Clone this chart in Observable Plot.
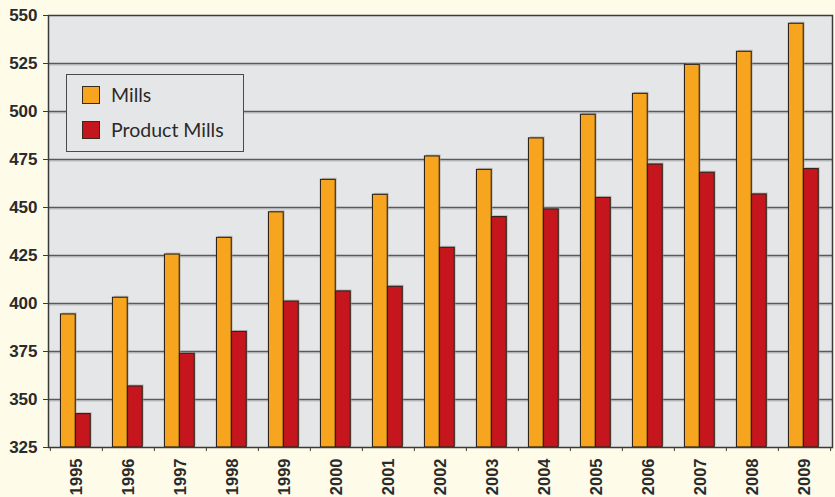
<!DOCTYPE html>
<html>
<head>
<meta charset="utf-8">
<script src="https://cdn.jsdelivr.net/npm/d3@7"></script>
<script src="https://cdn.jsdelivr.net/npm/@observablehq/plot@0.6"></script>
<style>
  html, body { margin: 0; padding: 0; background: #FEFBE9; }
  #wrap { position: relative; width: 835px; height: 497px; overflow: hidden; }
  #legend {
    position: absolute; left: 66px; top: 74px; width: 176px; height: 76px;
    background: #E5E6E8; border: 1.5px solid #4a4a4a;
    font-family: Lato, "Open Sans", sans-serif; font-size: 19.5px; color: #2a2a2a;
  }
  .row { position: absolute; left: 15px; display: flex; align-items: center; }
  .sw { width: 18px; height: 18px; border: 1px solid #3a2a1e; box-sizing: border-box; margin-right: 11px; }
</style>
</head>
<body>
<div id="wrap"></div>
<script>
const years = ["1995","1996","1997","1998","1999","2000","2001","2002","2003","2004","2005","2006","2007","2008","2009"];
const mills = [394.3, 403, 425.5, 434.2, 447.5, 464.4, 456.6, 476.6, 469.6, 486, 498.3, 509.2, 524.3, 531.1, 545.7];
const productMills = [342.4, 356.8, 373.8, 385.2, 401, 406.3, 408.7, 429, 445, 449, 455, 472.4, 468.1, 456.8, 470];
const seriesNames = ["Mills", "Product Mills"];
const seriesColors = ["#F7A51E", "#C5161D"];
const yTicks = [325, 350, 375, 400, 425, 450, 475, 500, 525, 550];
const yMin = 325, yMax = 550;

const millsData = years.map((y, i) => ({year: y, value: mills[i]}));
const productData = years.map((y, i) => ({year: y, value: productMills[i]}));

const W = 835, H = 497, mL = 48, mR = 3, mT = 15, mB = 50;
const bw = (W - mL - mR) / years.length;

const chart = Plot.plot({
  width: W, height: H,
  marginLeft: mL, marginRight: mR, marginTop: mT, marginBottom: mB,
  style: {background: "transparent", overflow: "visible"},
  x: {type: "band", domain: years, padding: 0},
  y: {domain: [yMin, yMax]},
  marks: [
    Plot.frame({fill: "#E5E6E8", stroke: null}),
    Plot.ruleY(yTicks.slice(1, -1), {stroke: "#bdbdbd", strokeWidth: 1.2, dy: 1.5}),
    Plot.ruleY(yTicks.slice(1, -1), {stroke: "#5a5a5a", strokeWidth: 1.4}),
    // bar shadows
    Plot.barY(millsData, {x: "year", y1: yMin, y2: "value", fill: "#9a9a9a", fillOpacity: 0.55,
      insetLeft: bw * 0.2 + 1.5, insetRight: bw * 0.512 - 1.5, dy: -1.5}),
    Plot.barY(productData, {x: "year", y1: yMin, y2: "value", fill: "#9a9a9a", fillOpacity: 0.55,
      insetLeft: bw * 0.488 + 1.5, insetRight: bw * 0.225 - 1.5, dy: -1.5}),
    Plot.barY(millsData, {x: "year", y1: yMin, y2: "value", fill: seriesColors[0],
      stroke: "#2e2218", strokeWidth: 1.1,
      insetLeft: bw * 0.2, insetRight: bw * 0.512}),
    Plot.barY(productData, {x: "year", y1: yMin, y2: "value", fill: seriesColors[1],
      stroke: "#2e2218", strokeWidth: 1.1,
      insetLeft: bw * 0.488, insetRight: bw * 0.225}),
    Plot.frame({stroke: "#3a3a3a", strokeWidth: 1.5}),
    Plot.axisY({ticks: yTicks, tickSize: 5, tickPadding: 6, stroke: "#3a3a3a",
      fontFamily: "'Liberation Sans', Arial, sans-serif", fontWeight: "bold", fontSize: 17,
      fill: "#2a2a2a", label: null}),
    Plot.axisX({tickSize: 4, text: null, stroke: "#3a3a3a", dx: -bw / 2, label: null}),
    Plot.axisX({ticks: [years[years.length - 1]], tickSize: 4, text: null, stroke: "#3a3a3a", dx: bw / 2, label: null}),
    Plot.axisX({tickSize: 0, tickPadding: 11, tickRotate: -90,
      fontFamily: "'Liberation Sans', Arial, sans-serif", fontWeight: "bold", fontSize: 16.5,
      fill: "#2a2a2a", label: null})
  ]
});

const wrap = document.getElementById("wrap");
wrap.appendChild(chart);

const legend = document.createElement("div");
legend.id = "legend";
seriesNames.forEach((name, i) => {
  const row = document.createElement("div");
  row.className = "row";
  row.style.top = (8 + i * 35) + "px";
  const sw = document.createElement("div");
  sw.className = "sw";
  sw.style.background = seriesColors[i];
  const t = document.createElement("span");
  t.textContent = name;
  row.appendChild(sw);
  row.appendChild(t);
  legend.appendChild(row);
});
wrap.appendChild(legend);
</script>
</body>
</html>
